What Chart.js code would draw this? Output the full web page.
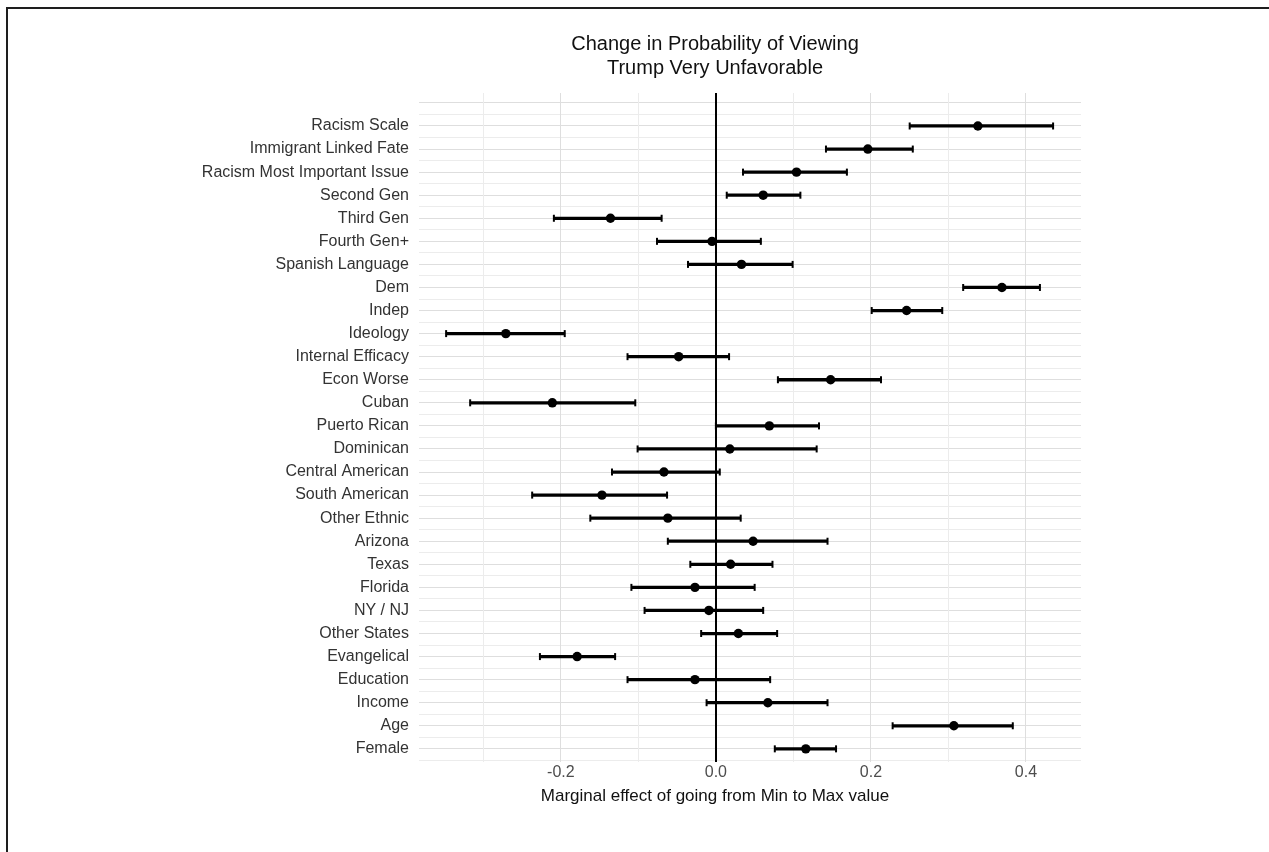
<!DOCTYPE html>
<html>
<head>
<meta charset="utf-8">
<script src="https://cdn.jsdelivr.net/npm/chart.js@4.4.1/dist/chart.umd.min.js"></script>
<style>
  html, body { margin: 0; padding: 0; background: #ffffff; }
  body { width: 1269px; height: 852px; position: relative; overflow: hidden; font-family: "Liberation Sans", Arial, sans-serif; }
  #frame { position: absolute; left: 6px; top: 7px; right: -4px; bottom: -4px; border-top: 2px solid #1e1e1e; border-left: 2px solid #1e1e1e; }
  #plot { position: absolute; left: 0; top: 0; }
  .title { position: absolute; left: 715px; transform: translateX(-50%); white-space: nowrap; text-align: center; color: #111111; }
  #main-title { top: 31px; font-size: 20px; line-height: 24px; }
  #x-title { top: 786px; font-size: 17px; line-height: 20px; }
</style>
</head>
<body>
<div id="frame"></div>
<canvas id="plot" width="1269" height="852"></canvas>
<div class="title" id="main-title">Change in Probability of Viewing<br>Trump Very Unfavorable</div>
<div class="title" id="x-title">Marginal effect of going from Min to Max value</div>
<script>
// Predictors, top to bottom
const categories = [
  "Racism Scale", "Immigrant Linked Fate", "Racism Most Important Issue", "Second Gen",
  "Third Gen", "Fourth Gen+", "Spanish Language", "Dem", "Indep", "Ideology",
  "Internal Efficacy", "Econ Worse", "Cuban", "Puerto Rican", "Dominican",
  "Central American", "South American", "Other Ethnic", "Arizona", "Texas",
  "Florida", "NY / NJ", "Other States", "Evangelical", "Education", "Income",
  "Age", "Female"
];

// Marginal effect (point estimate) for each predictor
const estimates = [
  0.338, 0.196, 0.104, 0.061,
  -0.136, -0.005, 0.033, 0.369, 0.246, -0.271,
  -0.048, 0.148, -0.211, 0.069, 0.018,
  -0.067, -0.147, -0.062, 0.048, 0.019,
  -0.027, -0.009, 0.029, -0.179, -0.027, 0.067,
  0.307, 0.116
];

// Confidence interval bounds
const lower = [
  0.250, 0.142, 0.035, 0.014,
  -0.209, -0.076, -0.036, 0.319, 0.201, -0.348,
  -0.114, 0.080, -0.317, 0.000, -0.101,
  -0.134, -0.237, -0.162, -0.062, -0.033,
  -0.109, -0.092, -0.019, -0.227, -0.114, -0.012,
  0.228, 0.076
];
const upper = [
  0.435, 0.254, 0.169, 0.109,
  -0.070, 0.058, 0.099, 0.418, 0.292, -0.195,
  0.017, 0.213, -0.104, 0.133, 0.130,
  0.005, -0.063, 0.032, 0.144, 0.073,
  0.050, 0.061, 0.079, -0.130, 0.070, 0.144,
  0.383, 0.155
];

// x axis: gridline positions and the ones that carry a label
const xGridValues = [-0.3, -0.2, -0.1, 0.0, 0.1, 0.2, 0.3, 0.4];
const xTickLabels = ["-0.2", "0.0", "0.2", "0.4"];
const xLabeledValues = [-0.2, 0.0, 0.2, 0.4];

const X_MIN = -0.383, X_MAX = 0.471;
const Y_MIN = -1.43, Y_MAX = 27.57;

const key = v => Math.round(v * 10);

const intervals = categories.map((c, i) => ({ x: [lower[i], upper[i]], y: i }));
const caps = [];
categories.forEach((c, i) => {
  caps.push({ x: lower[i], y: i });
  caps.push({ x: upper[i], y: i });
});
const points = categories.map((c, i) => ({ x: estimates[i], y: i }));

const MAJOR = "#dedede", MINOR = "#ececec";

new Chart(document.getElementById("plot"), {
  type: "bar",
  data: {
    datasets: [
      {
        type: "bar",
        data: intervals,
        backgroundColor: "#000000",
        borderWidth: 0,
        barThickness: 2.6,
        order: 3
      },
      {
        type: "scatter",
        data: caps,
        pointStyle: "line",
        rotation: 90,
        radius: 3.5,
        borderColor: "#000000",
        borderWidth: 2,
        order: 2
      },
      {
        type: "scatter",
        data: points,
        pointStyle: "circle",
        radius: 4.7,
        backgroundColor: "#000000",
        borderWidth: 0,
        order: 1
      }
    ]
  },
  options: {
    responsive: false,
    animation: false,
    indexAxis: "y",
    devicePixelRatio: 1,
    layout: { padding: { left: 0, right: 188, top: 93, bottom: 60 } },
    plugins: { legend: { display: false }, tooltip: { enabled: false }, title: { display: false } },
    scales: {
      x: {
        type: "linear",
        min: X_MIN,
        max: X_MAX,
        offset: false,
        border: { display: false },
        afterBuildTicks: s => { s.ticks = xGridValues.map(v => ({ value: v })); },
        afterFit: s => { s.height = 30; },
        ticks: {
          autoSkip: false,
          maxRotation: 0,
          padding: 1,
          color: "#4d4d4d",
          font: { family: "Liberation Sans", size: 16 },
          callback: v => {
            const idx = xLabeledValues.findIndex(t => key(t) === key(v));
            return idx >= 0 ? xTickLabels[idx] : "";
          }
        },
        grid: {
          drawTicks: false,
          offset: false,
          color: c => {
            if (!c.tick) return MAJOR;
            const k = key(c.tick.value);
            return k === 0 ? "#000000" : (k % 2 === 0 ? MAJOR : MINOR);
          },
          lineWidth: c => (c.tick && key(c.tick.value) === 0) ? 2 : 1,
          z: 0
        }
      },
      y: {
        type: "linear",
        reverse: true,
        min: Y_MIN,
        max: Y_MAX,
        offset: false,
        border: { display: false },
        afterBuildTicks: s => {
          const t = [];
          for (let v = -1; v <= 27.5; v += 0.5) t.push({ value: v });
          s.ticks = t;
        },
        afterFit: s => { s.width = 419; },
        ticks: {
          autoSkip: false,
          padding: 10,
          color: "#333333",
          font: { family: "Liberation Sans", size: 16 },
          callback: v => (Number.isInteger(v) && v >= 0 && v < categories.length) ? categories[v] : ""
        },
        grid: {
          drawTicks: false,
          offset: false,
          color: c => (!c.tick || Number.isInteger(c.tick.value)) ? MAJOR : MINOR,
          lineWidth: 1
        }
      }
    }
  }
});
</script>
</body>
</html>
